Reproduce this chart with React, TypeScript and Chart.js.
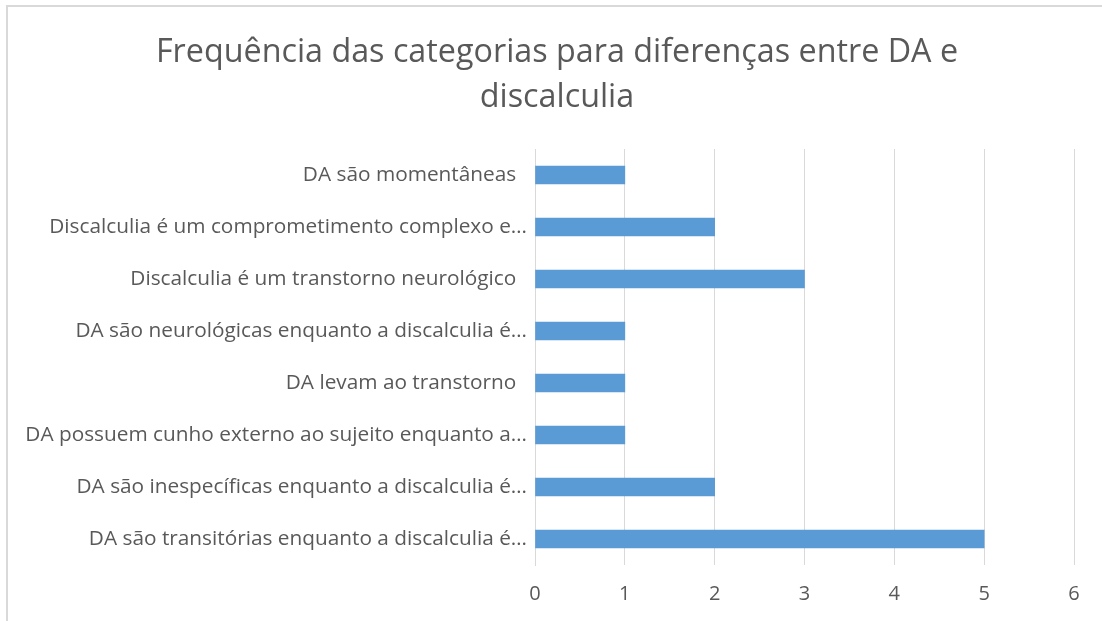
import React, { useEffect, useRef } from "react";
import { Chart, registerables } from "chart.js";

Chart.register(...registerables);

const titleLines = ["Frequência das categorias para diferenças entre DA e", "discalculia"];
const categories = [
  "DA são momentâneas  ",
  "Discalculia é um comprometimento complexo e…",
  "Discalculia é um transtorno neurológico  ",
  "DA são neurológicas enquanto a discalculia é…",
  "DA levam ao transtorno  ",
  "DA possuem cunho externo ao sujeito enquanto a…",
  "DA são inespecíficas enquanto a discalculia é…",
  "DA são transitórias enquanto a discalculia é…",
];
const values = [1, 2, 3, 1, 1, 1, 2, 5];
const xTicks = [0, 1, 2, 3, 4, 5, 6];

const FONT = "'Open Sans', sans-serif";
const TEXT = "#595959";
const GRID = "#d9d9d9";

export default function App() {
  const ref = useRef<HTMLCanvasElement | null>(null);
  useEffect(() => {
    if (!ref.current) return;
    const chart = new Chart(ref.current, {
      type: "bar",
      data: {
        labels: categories,
        datasets: [
          {
            data: values,
            backgroundColor: "#5b9bd5",
            borderWidth: 0,
            barThickness: 18,
          },
        ],
      },
      options: {
        indexAxis: "y",
        animation: false,
        responsive: false,
        maintainAspectRatio: false,
        layout: { padding: { left: 20, right: 8, top: 0, bottom: 0 } },
        plugins: {
          legend: { display: false },
          tooltip: { enabled: false },
          title: {
            display: true,
            text: titleLines,
            color: TEXT,
            font: { family: FONT, size: 32.3, weight: "normal", lineHeight: "45px" },
            padding: { top: 30, bottom: 29 },
          },
        },
        scales: {
          x: {
            min: 0,
            max: 6,
            afterBuildTicks: (s: any) => {
              s.ticks = xTicks.map((v) => ({ value: v }));
            },
            afterFit: (s: any) => {
              s.height = 56;
            },
            grid: { color: GRID, lineWidth: 1, drawTicks: false },
            border: { display: false },
            ticks: { color: TEXT, font: { family: FONT, size: 20 }, padding: 17 },
          },
          y: {
            afterFit: (s: any) => {
              s.width = 515;
            },
            grid: { display: false, drawTicks: false },
            border: { display: true, color: GRID, width: 1 },
            ticks: { color: TEXT, font: { family: FONT, size: 20.8 }, padding: 8, autoSkip: false },
          },
          yRight: {
            type: "linear",
            axis: "y",
            position: "right",
            display: true,
            afterFit: (s: any) => {
              s.width = 20;
            },
            grid: { display: false, drawTicks: false },
            border: { display: false },
            ticks: { display: false },
          },
        },
      },
    });
    return () => chart.destroy();
  }, []);
  return (
    <div style={{ position: "fixed", left: 0, top: 0, width: 1102, height: 621, background: "#fff" }}>
      <div
        style={{
          position: "absolute",
          left: 6,
          top: 5,
          right: 0,
          bottom: 0,
          borderTop: "2px solid #d9d9d9",
          borderLeft: "2px solid #d9d9d9",
        }}
      />
      <canvas ref={ref} width={1102} height={621} style={{ position: "absolute", left: 0, top: 0 }} />
    </div>
  );
}
